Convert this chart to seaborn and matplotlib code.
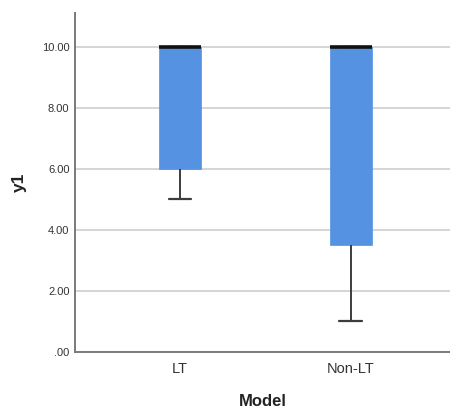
import matplotlib
matplotlib.use("Agg")
import matplotlib.pyplot as plt
import pandas as pd
import seaborn as sns

# Five-number summary per group
models = ["LT", "Non-LT"]
whisker_low = [5.0, 1.0]
q1 = [6.0, 3.5]
median = [10.0, 10.0]
q3 = [10.0, 10.0]
whisker_high = [10.0, 10.0]
y_ticks = [0, 2, 4, 6, 8, 10]
y_tick_labels = [".00", "2.00", "4.00", "6.00", "8.00", "10.00"]

# Each group's five summary values, as observations, reproduce exactly those quartiles
rows = []
for i, m in enumerate(models):
    for v in (whisker_low[i], q1[i], median[i], q3[i], whisker_high[i]):
        rows.append({"Model": m, "y1": v})
df = pd.DataFrame(rows)

sns.set_theme(style="white")
plt.rcParams["font.family"] = ["Liberation Sans", "DejaVu Sans"]

fig = plt.figure(figsize=(4.5, 4.09), dpi=100)
ax = fig.add_axes([0.1667, 0.1394, 0.8333, 0.8286])

box_color = "#5592e2"
sns.boxplot(
    data=df, x="Model", y="y1", order=models, ax=ax,
    color=box_color, saturation=1, width=0.25, whis=1.5,
    fliersize=0,
    boxprops=dict(facecolor=box_color, edgecolor=box_color, linewidth=0.5),
    medianprops=dict(color="#111111", linewidth=2.6),
    whiskerprops=dict(color="#3c3c3c", linewidth=1.4),
    capprops=dict(color="#3c3c3c", linewidth=1.6),
    capwidths=0.134,
    zorder=3,
)

ax.set_ylim(0, 11.11)
ax.set_xlim(-0.614, 1.58)
ax.set_yticks(y_ticks)
ax.set_yticklabels(y_tick_labels)
ax.yaxis.grid(True, color="#d2d2d2", linewidth=1.3, zorder=0)
ax.xaxis.grid(False)
ax.set_axisbelow(True)

for side in ("top", "right"):
    ax.spines[side].set_visible(False)
for side in ("left", "bottom"):
    ax.spines[side].set_color("#7a7a7a")
    ax.spines[side].set_linewidth(1.4)

ax.tick_params(axis="both", length=0)
ax.tick_params(axis="y", labelsize=8, colors="#333333", pad=4)
ax.tick_params(axis="x", labelsize=10.5, colors="#333333", pad=7)

ax.set_xlabel("Model", fontsize=12, fontweight="bold", color="#222222", labelpad=13)
ax.set_ylabel("y1", fontsize=12.5, fontweight="bold", color="#222222", labelpad=11)

fig.savefig("out.png", dpi=100)
